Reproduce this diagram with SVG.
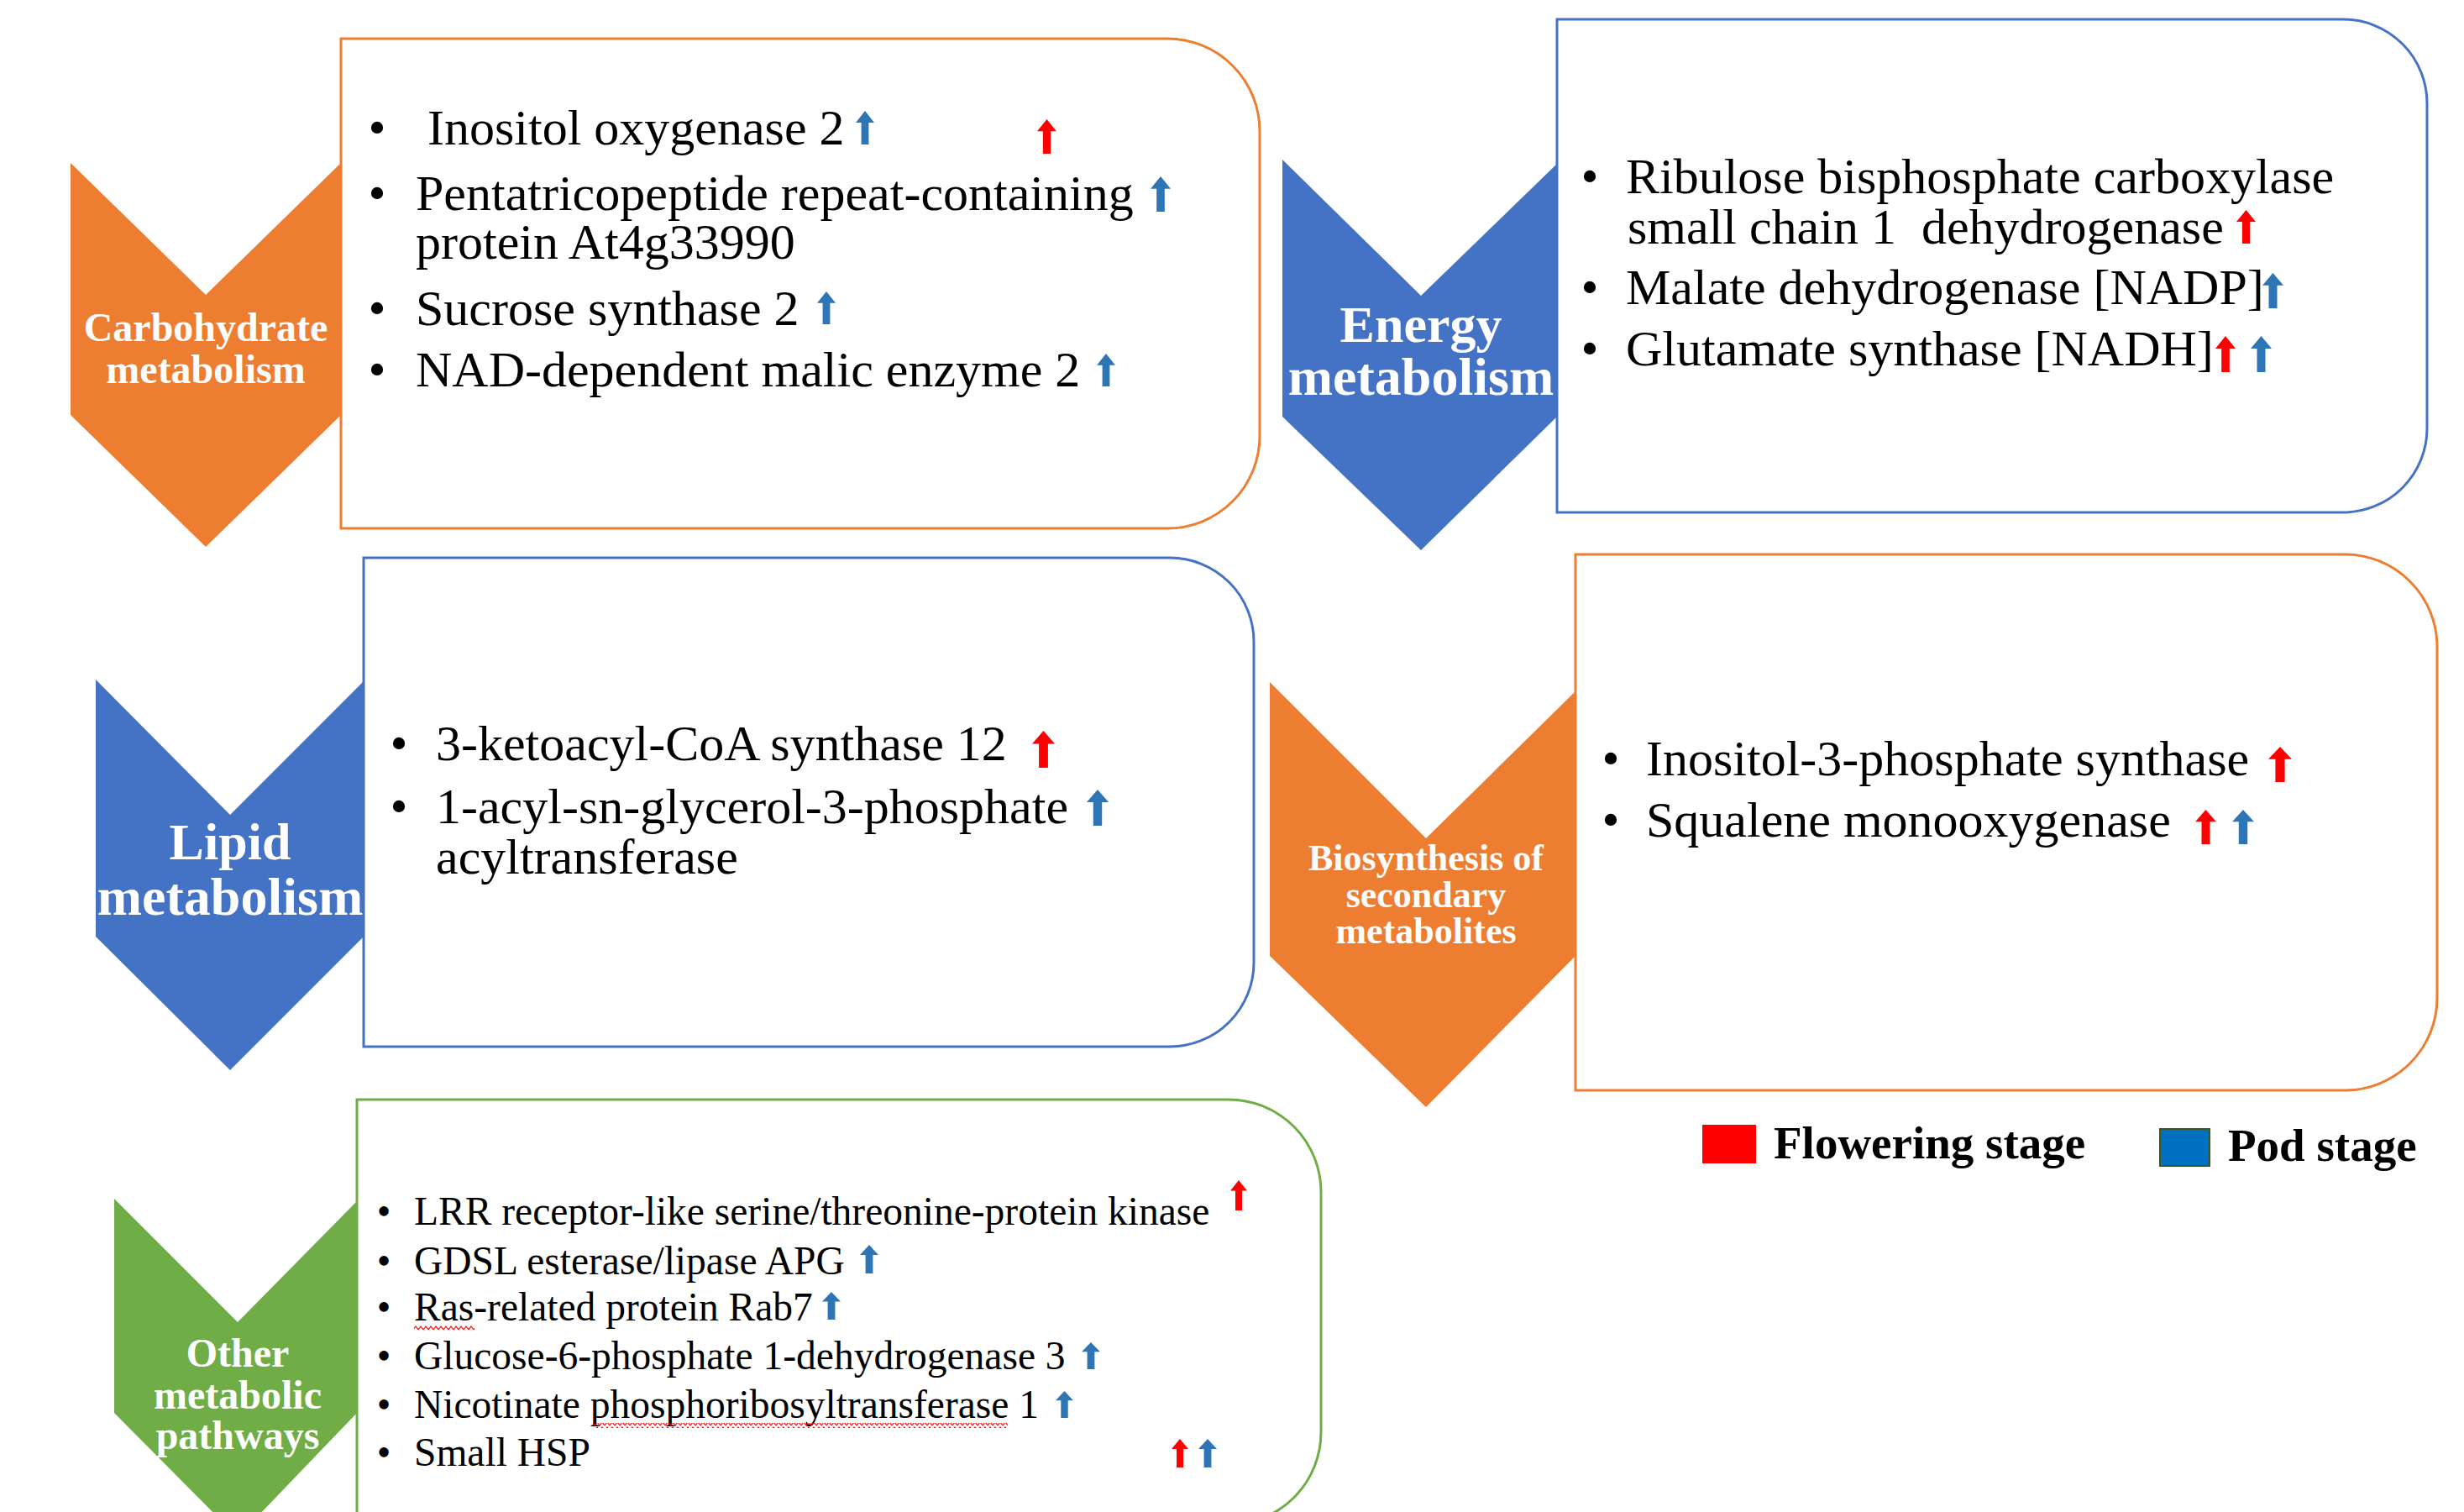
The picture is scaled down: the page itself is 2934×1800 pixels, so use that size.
<svg xmlns="http://www.w3.org/2000/svg" xmlns:xlink="http://www.w3.org/1999/xlink" width="2934" height="1800" viewBox="0 0 2934 1800">
<style>
.box{fill:#FFFFFF;stroke-width:3}
.or{stroke:#ED7D31}.bl{stroke:#4472C4}.gr{stroke:#70AD47}
.cor{fill:#ED7D31}.cbl{fill:#4472C4}.cgr{fill:#70AD47}
.t{font-family:"Liberation Serif","Times New Roman",serif;fill:#000000}
.t60{font-size:60px}.t47{font-size:47.5px}
.lab{font-family:"Liberation Serif","Times New Roman",serif;font-weight:bold;fill:#FFFFFF;text-anchor:middle}
.leg{font-family:"Liberation Serif","Times New Roman",serif;font-weight:bold;font-size:55px;fill:#000000}
.bu{text-anchor:middle}
.r{fill:#FF0000}.b{fill:#2E75B6}
</style>
<defs>
<symbol id="arr" viewBox="0 0 20 40" preserveAspectRatio="none"><path d="M10 0 L20 14 L14 14 L14 40 L6 40 L6 14 L0 14 Z"/></symbol>
<pattern id="sq" x="0" y="0" width="6" height="6" patternUnits="userSpaceOnUse"><path d="M0 5 L3 1 L6 5" stroke="#FF0000" stroke-width="1.2" fill="none"/></pattern>
</defs>
<rect width="2934" height="1800" fill="#FFFFFF"/>
<g id="connectors"/>

<!-- Carbohydrate -->
<g id="carb-box">
<path class="box or" d="M406 46 H1390 A110 110 0 0 1 1500 156 V519 A110 110 0 0 1 1390 629 H406 Z"/>
<g class="t t60">
<text class="bu" x="449" y="172">•</text>
<text x="509" y="172">Inositol oxygenase 2</text>
<text class="bu" x="449" y="250">•</text>
<text x="495" y="250">Pentatricopeptide repeat-containing</text>
<text x="495" y="308">protein At4g33990</text>
<text class="bu" x="449" y="387">•</text>
<text x="495" y="387">Sucrose synthase 2</text>
<text class="bu" x="449" y="460">•</text>
<text x="495" y="460">NAD-dependent malic enzyme 2</text>
</g>
<use href="#arr" class="b" x="1019" y="132" width="22" height="40"/>
<use href="#arr" class="r" x="1235" y="142" width="23" height="41"/>
<use href="#arr" class="b" x="1370" y="210" width="24" height="42"/>
<use href="#arr" class="b" x="973" y="347" width="22" height="39"/>
<use href="#arr" class="b" x="1306" y="421" width="22" height="39"/>
</g>
<g id="carb-chevron">
<polygon class="cor" points="84,194 245,351 406,194 406,494 245,651 84,494"/>
<text class="lab" font-size="48" x="245" y="406">Carbohydrate</text>
<text class="lab" font-size="48" x="245" y="456">metabolism</text>
</g>

<!-- Energy -->
<g id="energy-box">
<path class="box bl" d="M1854 23 H2790 A100 100 0 0 1 2890 123 V510 A100 100 0 0 1 2790 610 H1854 Z"/>
<g class="t t60">
<text class="bu" x="1893" y="230">•</text>
<text x="1936" y="230">Ribulose bisphosphate carboxylase</text>
<text x="1938" y="290" xml:space="preserve">small chain 1  dehydrogenase</text>
<text class="bu" x="1893" y="362">•</text>
<text x="1936" y="362">Malate dehydrogenase [NADP]</text>
<text class="bu" x="1893" y="435">•</text>
<text x="1936" y="435">Glutamate synthase [NADH]</text>
</g>
<use href="#arr" class="r" x="2663" y="250" width="23" height="40"/>
<use href="#arr" class="b" x="2694" y="325" width="25" height="42"/>
<use href="#arr" class="r" x="2638" y="400" width="24" height="43"/>
<use href="#arr" class="b" x="2680" y="400" width="25" height="43"/>
</g>
<g id="energy-chevron">
<polygon class="cbl" points="1527,190 1692,352 1854,195 1854,496 1692,655 1527,496"/>
<text class="lab" font-size="62" x="1692" y="407">Energy</text>
<text class="lab" font-size="64" x="1692" y="470">metabolism</text>
</g>

<!-- Lipid -->
<g id="lipid-box">
<path class="box bl" d="M433 664 H1393 A100 100 0 0 1 1493 764 V1146 A100 100 0 0 1 1393 1246 H433 Z"/>
<g class="t t60">
<text class="bu" x="475" y="905">•</text>
<text x="519" y="905">3-ketoacyl-CoA synthase 12</text>
<text class="bu" x="475" y="980">•</text>
<text x="519" y="980">1-acyl-sn-glycerol-3-phosphate</text>
<text x="519" y="1040">acyltransferase</text>
</g>
<use href="#arr" class="r" x="1229" y="870" width="27" height="44"/>
<use href="#arr" class="b" x="1294" y="940" width="26" height="43"/>
</g>
<g id="lipid-chevron">
<polygon class="cbl" points="114,809 274,970 433,811 433,1115 274,1274 114,1115"/>
<text class="lab" font-size="62" x="274" y="1023">Lipid</text>
<text class="lab" font-size="64" x="274" y="1089">metabolism</text>
</g>

<!-- Biosynthesis of secondary metabolites -->
<g id="bio-box">
<path class="box or" d="M1876 660 H2792 A110 110 0 0 1 2902 770 V1188 A110 110 0 0 1 2792 1298 H1876 Z"/>
<g class="t t60">
<text class="bu" x="1918" y="923">•</text>
<text x="1960" y="923">Inositol-3-phosphate synthase</text>
<text class="bu" x="1918" y="996">•</text>
<text x="1960" y="996">Squalene monooxygenase</text>
</g>
<use href="#arr" class="r" x="2701" y="889" width="28" height="42"/>
<use href="#arr" class="r" x="2614" y="964" width="25" height="41"/>
<use href="#arr" class="b" x="2658" y="964" width="26" height="41"/>
</g>
<g id="bio-chevron">
<polygon class="cor" points="1512,812 1698,998 1876,823 1876,1138 1698,1318 1512,1138"/>
<text class="lab" font-size="44" x="1698" y="1036">Biosynthesis of</text>
<text class="lab" font-size="44" x="1698" y="1080">secondary</text>
<text class="lab" font-size="44" x="1698" y="1123">metabolites</text>
</g>

<!-- Other metabolic pathways -->
<g id="other-box">
<path class="box gr" d="M425 1309 H1463 A110 110 0 0 1 1573 1419 V1705 A110 110 0 0 1 1463 1815 H425 Z"/>
<g class="t t47">
<text class="bu" x="457" y="1458">•</text>
<text x="493" y="1458">LRR receptor-like serine/threonine-protein kinase</text>
<text class="bu" x="457" y="1517">•</text>
<text x="493" y="1517">GDSL esterase/lipase APG</text>
<text class="bu" x="457" y="1572">•</text>
<text x="493" y="1572">Ras-related protein Rab7</text>
<text class="bu" x="457" y="1630">•</text>
<text x="493" y="1630">Glucose-6-phosphate 1-dehydrogenase 3</text>
<text class="bu" x="457" y="1688">•</text>
<text x="493" y="1688">Nicotinate phosphoribosyltransferase 1</text>
<text class="bu" x="457" y="1745">•</text>
<text x="493" y="1745">Small HSP</text>
</g>
<rect x="493" y="1578" width="72" height="6" fill="url(#sq)"/>
<rect x="706" y="1694" width="494" height="6" fill="url(#sq)"/>
<use href="#arr" class="r" x="1465" y="1405" width="20" height="36"/>
<use href="#arr" class="b" x="1024" y="1482" width="22" height="34"/>
<use href="#arr" class="b" x="979" y="1538" width="22" height="33"/>
<use href="#arr" class="b" x="1288" y="1598" width="22" height="32"/>
<use href="#arr" class="b" x="1257" y="1656" width="21" height="32"/>
<use href="#arr" class="r" x="1395" y="1713" width="20" height="34"/>
<use href="#arr" class="b" x="1427" y="1713" width="22" height="34"/>
</g>
<g id="other-chevron">
<polygon class="cgr" points="136,1427 283,1574 425,1430 425,1682 283,1830 136,1682"/>
<text class="lab" font-size="48" x="283" y="1627">Other</text>
<text class="lab" font-size="48" x="283" y="1677">metabolic</text>
<text class="lab" font-size="48" x="283" y="1725">pathways</text>
</g>

<!-- Legend -->
<g id="legend">
<rect x="2027" y="1339" width="64" height="46" fill="#FF0000"/>
<text class="leg" x="2112" y="1379">Flowering stage</text>
<rect x="2572" y="1344" width="59" height="44" fill="#0070C0" stroke="#385723" stroke-width="2"/>
<text class="leg" x="2653" y="1382">Pod stage</text>
</g>
</svg>
